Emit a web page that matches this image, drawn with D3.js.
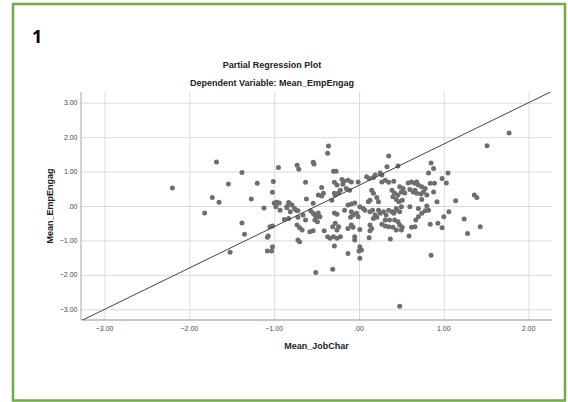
<!DOCTYPE html>
<html>

<head>
    <meta charset="utf-8">
    <style>
        body {
            margin: 0;
            background: #fff;
        }

        svg {
            display: block;
            font-family: Arial, 'Liberation Sans', sans-serif;
        }

        .grid line {
            stroke: #dadada;
            stroke-width: 1;
        }

        .tick-label {
            font-size: 7px;
            fill: #444;
        }

        .title {
            font-size: 9px;
            font-weight: bold;
            fill: #222;
        }

        .axis-title {
            font-size: 9px;
            font-weight: bold;
            fill: #222;
        }
    </style>
</head>

<body>
    <svg width="568" height="402"></svg>
</body>

<script src="https://d3js.org/d3.v7.min.js"></script>

<script>
    // tick values
    let xTicks = [-3, -2, -1, 0, 1, 2]
    let yTicks = [-3, -2, -1, 0, 1, 2, 3]

    // fit line: Mean_EmpEngag = intercept + slope * Mean_JobChar
    let fitSlope = 1.2
    let fitIntercept = 0.6

    // [Mean_JobChar, Mean_EmpEngag] partial residuals
    let points = [
        [-2.20, 0.52], [-1.68, 1.28], [-1.38, 0.97], [-1.54, 0.64], [-1.20, 0.66],
        [-1.73, 0.25], [-1.65, 0.11], [-1.27, 0.20], [-1.82, -0.20], [-1.38, -0.49],
        [-1.35, -0.82], [-1.52, -1.34], [-1.12, -0.06], [-1.01, 0.71], [-1.02, 0.40],
        [-0.95, 1.12], [-1.00, 0.09], [-0.97, 0.11], [-0.94, 0.09], [-0.98, -0.02],
        [-0.93, -0.12], [-0.85, -0.02], [-0.82, 0.08], [-0.88, -0.39], [-0.83, -0.36],
        [-1.05, -0.60], [-1.02, -0.58], [-1.08, -0.91], [-1.07, -0.87], [-1.02, -1.18],
        [-1.08, -1.31], [-1.03, -1.31],
        [-0.36, 1.74], [-0.37, 1.53], [-0.73, 1.18], [-0.71, 1.07], [-0.54, 1.27],
        [-0.53, 1.22], [-0.30, 1.01], [-0.63, 0.69], [-0.44, 0.54], [-0.29, 0.37],
        [-0.62, 0.20], [-0.48, 0.32], [-0.44, 0.29], [-0.42, 0.37], [-0.54, 0.08],
        [-0.83, 0.10], [-0.79, 0.03], [-0.76, -0.07], [-0.74, -0.12], [-0.85, -0.05],
        [-0.81, -0.17], [-0.72, -0.14], [-0.66, -0.26], [-0.72, -0.33], [-0.57, -0.14],
        [-0.54, -0.21], [-0.52, -0.26], [-0.50, -0.31], [-0.48, -0.20], [-0.46, -0.31],
        [-0.52, -0.41], [-0.49, -0.46], [-0.63, -0.41], [-0.73, -0.55], [-0.70, -0.63],
        [-0.67, -0.70], [-0.58, -0.75], [-0.54, -0.72], [-0.41, -0.72], [-0.37, -0.89],
        [-0.34, -0.94], [-0.29, -1.16], [-0.31, -0.60], [-0.72, -0.99], [-0.70, -1.04],
        [-0.51, -1.93], [-0.31, -1.84],
        [0.35, 1.45], [0.33, 1.14], [-0.27, 1.01], [-0.29, 0.69], [-0.26, 0.61],
        [-0.20, 0.77], [-0.18, 0.72], [-0.19, 0.63], [-0.13, 0.75], [-0.09, 0.70],
        [-0.01, 0.70], [0.09, 0.85], [0.12, 0.80], [0.17, 0.83], [0.19, 0.90],
        [0.25, 0.96], [0.27, 0.90], [0.27, 0.70], [0.31, 0.75], [0.35, 0.69],
        [0.41, 0.72], [0.46, 1.16], [-0.28, 0.32], [-0.32, 0.17], [-0.24, 0.38],
        [-0.22, 0.46], [-0.15, 0.51], [-0.11, 0.46], [0.15, 0.46], [0.17, 0.37],
        [0.13, 0.17], [0.11, 0.12], [0.21, 0.25], [0.23, 0.12], [0.39, 0.46],
        [0.42, 0.37], [0.40, 0.27], [0.46, 0.32], [-0.13, 0.03], [-0.09, 0.06],
        [-0.05, 0.09], [0.01, -0.02], [0.05, -0.07], [0.07, -0.12], [-0.17, -0.12],
        [-0.29, -0.20], [-0.26, -0.24], [-0.09, -0.17], [-0.07, -0.26], [-0.10, -0.33],
        [-0.03, -0.21], [-0.01, -0.31], [0.13, -0.17], [0.16, -0.12], [0.19, -0.26],
        [0.23, -0.12], [0.25, -0.21], [0.29, -0.17], [0.32, -0.26], [0.35, -0.12],
        [0.39, -0.17], [0.41, -0.21], [0.44, -0.12], [0.17, -0.36], [0.21, -0.33],
        [0.31, -0.41], [0.36, -0.41], [0.42, -0.41], [0.46, -0.46], [-0.28, -0.50],
        [-0.24, -0.60], [-0.26, -0.70], [-0.13, -0.65], [-0.09, -0.55], [-0.07, -0.62],
        [0.01, -0.68], [0.13, -0.55], [0.15, -0.65], [0.13, -0.72], [0.27, -0.53],
        [0.31, -0.58], [0.35, -0.60], [0.40, -0.62], [0.44, -0.70], [-0.30, -0.89],
        [-0.26, -0.94], [-0.22, -0.89], [-0.05, -0.89], [-0.05, -0.99], [0.12, -0.92],
        [0.37, -0.96], [0.01, -1.18], [0.03, -1.28], [-0.13, -1.38], [0.01, -1.52],
        [0.00, -1.31],
        [0.85, 1.25], [0.88, 1.09], [0.82, 0.96], [1.05, 0.96], [0.98, 0.80],
        [1.03, 0.67], [0.84, 0.66], [0.89, 0.66], [0.88, 0.41], [0.58, 0.67],
        [0.62, 0.70], [0.66, 0.66], [0.68, 0.70], [0.70, 0.61], [0.74, 0.56],
        [0.78, 0.51], [0.48, 0.56], [0.52, 0.51], [0.50, 0.41], [0.54, 0.38],
        [0.60, 0.48], [0.64, 0.41], [0.68, 0.37], [0.66, 0.46], [0.73, 0.35],
        [0.76, 0.41], [0.80, 0.32], [0.74, 0.19], [0.44, 0.19], [0.47, 0.12],
        [0.51, 0.17], [0.44, -0.07], [0.48, -0.17], [0.50, -0.02], [0.60, -0.02],
        [0.70, -0.07], [0.80, 0.00], [0.78, -0.14], [0.82, -0.12], [0.92, 0.12],
        [1.14, 0.15], [1.06, -0.17], [1.00, -0.31], [0.74, -0.21], [0.70, -0.31],
        [0.67, -0.41], [0.48, -0.55], [0.51, -0.62], [0.50, -0.70], [0.62, -0.62],
        [0.66, -0.60], [0.59, -0.87], [0.84, -0.53], [0.93, -0.50], [0.98, -0.63],
        [0.85, -1.43], [1.24, -0.38],
        [1.77, 2.12], [1.51, 1.75], [1.36, 0.32], [1.39, 0.25], [1.43, -0.60],
        [1.28, -0.80], [0.48, -2.91]
    ]

    let svg = d3.select("svg")

    let plot = { left: 81, right: 552, top: 92, bottom: 320 }

    let x = d3.scaleLinear()
        .domain([-3.278, 2.276])
        .range([plot.left, plot.right])

    let y = d3.scaleLinear()
        .domain([-3.31, 3.31])
        .range([plot.bottom, plot.top])

    // green frame
    svg.append("rect")
        .attr("x", 13)
        .attr("y", 4)
        .attr("width", 552)
        .attr("height", 396.5)
        .attr("fill", "none")
        .attr("stroke", "#70ad47")
        .attr("stroke-width", 2.5)

    svg.append("text")
        .attr("x", 32)
        .attr("y", 43)
        .style("font-size", "18px")
        .style("font-weight", "bold")
        .style("font-family", "'Open Sans', Arial, sans-serif")
        .text("1")

    svg.append("text")
        .attr("class", "title")
        .attr("x", 272)
        .attr("y", 68)
        .attr("text-anchor", "middle")
        .text("Partial Regression Plot")

    svg.append("text")
        .attr("class", "title")
        .attr("x", 272)
        .attr("y", 85.5)
        .attr("text-anchor", "middle")
        .text("Dependent Variable: Mean_EmpEngag")

    // gridlines
    let xGrid = d3.axisBottom(x)
        .tickValues(xTicks)
        .tickSize(-(plot.bottom - plot.top))
        .tickFormat("")

    svg.append("g")
        .attr("class", "grid")
        .attr("transform", `translate(0,${plot.bottom})`)
        .call(xGrid)
        .call(g => g.select(".domain").remove())

    let yGrid = d3.axisLeft(y)
        .tickValues(yTicks)
        .tickSize(-(plot.right - plot.left))
        .tickFormat("")

    svg.append("g")
        .attr("class", "grid")
        .attr("transform", `translate(${plot.left},0)`)
        .call(yGrid)
        .call(g => g.select(".domain").remove())

    // axis lines
    svg.append("line")
        .attr("x1", plot.left).attr("x2", plot.left)
        .attr("y1", plot.top).attr("y2", plot.bottom)
        .attr("stroke", "#b4b4b4")
        .attr("stroke-width", 1.2)

    svg.append("line")
        .attr("x1", plot.left).attr("x2", plot.right)
        .attr("y1", plot.bottom).attr("y2", plot.bottom)
        .attr("stroke", "#b4b4b4")
        .attr("stroke-width", 1.5)

    let fmt = v => v == 0 ? ".00" : d3.format(".2f")(v)

    svg.append("g")
        .selectAll("text")
        .data(xTicks)
        .join("text")
        .attr("class", "tick-label")
        .attr("x", d => x(d))
        .attr("y", 330.5)
        .attr("text-anchor", "middle")
        .text(fmt)

    svg.append("g")
        .selectAll("text")
        .data(yTicks)
        .join("text")
        .attr("class", "tick-label")
        .attr("x", 77.5)
        .attr("y", d => y(d) + 2.5)
        .attr("text-anchor", "end")
        .text(fmt)

    svg.append("text")
        .attr("class", "axis-title")
        .attr("x", (plot.left + plot.right) / 2)
        .attr("y", 349)
        .attr("text-anchor", "middle")
        .text("Mean_JobChar")

    svg.append("text")
        .attr("class", "axis-title")
        .attr("transform", `translate(52.5,${(plot.top + plot.bottom) / 2}) rotate(-90)`)
        .attr("text-anchor", "middle")
        .text("Mean_EmpEngag")

    svg.append("clipPath")
        .attr("id", "plot-clip")
        .append("rect")
        .attr("x", plot.left)
        .attr("y", plot.top)
        .attr("width", plot.right - plot.left)
        .attr("height", plot.bottom - plot.top)

    // points
    svg.append("g")
        .selectAll("circle")
        .data(points)
        .join("circle")
        .attr("cx", d => x(d[0]))
        .attr("cy", d => y(d[1]))
        .attr("r", 2.5)
        .attr("fill", "#6e6e6e")

    // fit line
    let xd = x.domain()
    svg.append("line")
        .attr("clip-path", "url(#plot-clip)")
        .attr("x1", x(xd[0]))
        .attr("y1", y(fitIntercept + fitSlope * xd[0]))
        .attr("x2", x(xd[1]))
        .attr("y2", y(fitIntercept + fitSlope * xd[1]))
        .attr("stroke", "#444")
        .attr("stroke-width", 1)
</script>

</html>
